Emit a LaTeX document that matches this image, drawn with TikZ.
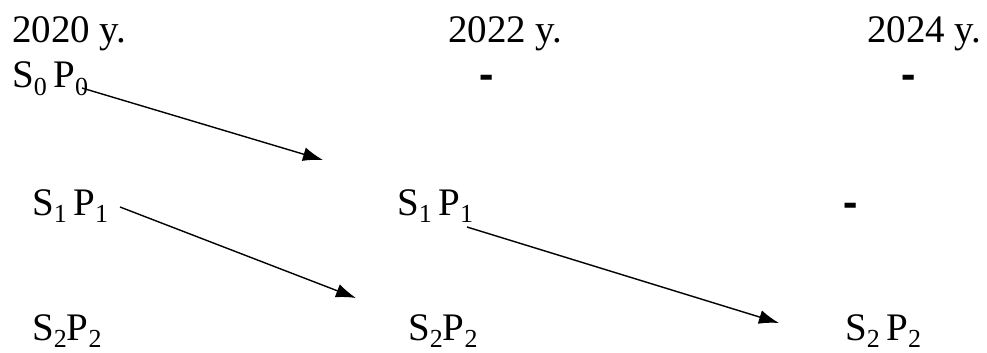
\documentclass[tikz,border=0pt]{standalone}
\usepackage{fontspec}
\setmainfont{Liberation Serif}
\usetikzlibrary{arrows.meta}
\newcommand{\mysub}[1]{\raisebox{-7pt}{\fontsize{26}{26}\selectfont #1}}
\newcommand{\mydash}{\scalebox{1.1}[1.5]{\textbf{-}}}
\begin{document}
\begin{tikzpicture}[x=1pt,y=-1pt,
  lbl/.style={anchor=base west,inner sep=0pt,font=\fontsize{39}{46}\selectfont},
  dsh/.style={anchor=base,inner sep=0pt,font=\fontsize{39}{46}\selectfont},
  arr/.style={-{Latex[length=20pt,width=14pt]},line width=1.4pt}]
\useasboundingbox (0,0) rectangle (987,353);
\node[lbl] (y20) at (12,43) {2020 y.};
\node[lbl] (y22) at (448,43) {2022 y.};
\node[lbl] (y24) at (867,43) {2024 y.};
\node[lbl] (a0) at (12,88) {S\mysub{0}\,P\mysub{0}};
\node[dsh] (b0) at (487,91) {\mydash};
\node[dsh] (c0) at (909,91) {\mydash};
\node[lbl] (a1) at (32,215) {S\mysub{1}\,P\mysub{1}};
\node[lbl] (b1) at (397,215) {S\mysub{1}\,P\mysub{1}};
\node[dsh] (c1) at (851,219) {\mydash};
\node[lbl] (a2) at (32,340) {S\mysub{2}P\mysub{2}};
\node[lbl] (b2) at (408,340) {S\mysub{2}P\mysub{2}};
\node[lbl] (c2) at (845,340) {S\mysub{2}\,P\mysub{2}};
\coordinate (s0) at (82,88);
\coordinate (s1) at (120,207);
\coordinate (s2) at (467,227);
\coordinate (e0) at (323,160);
\coordinate (e1) at (356,298);
\coordinate (e2) at (779,323);
\draw[arr] (s0) -- (e0);
\draw[arr] (s1) -- (e1);
\draw[arr] (s2) -- (e2);
\end{tikzpicture}
\end{document}
